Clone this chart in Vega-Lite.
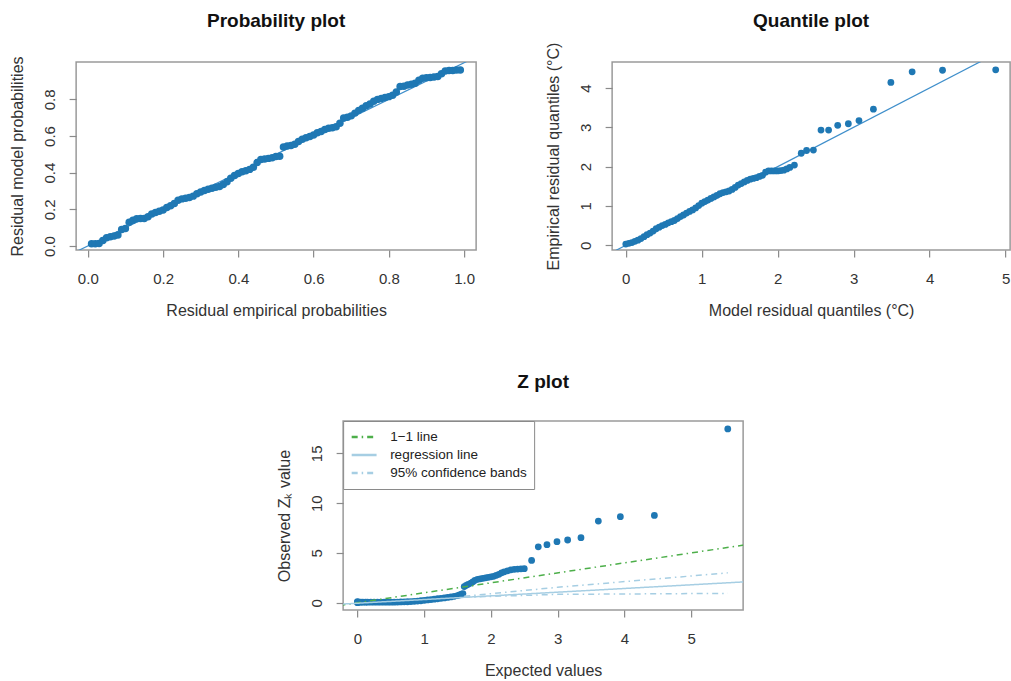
{
  "$schema": "https://vega.github.io/schema/vega-lite/v6.json",
  "autosize": {"type": "none"},
  "padding": {"left": 76, "top": 62, "right": 935, "bottom": 619},
  "background": "white",
  "config": {
    "font": "Liberation Sans",
    "view": {"stroke": "#9a9a9a", "strokeWidth": 1.5},
    "axis": {
      "domain": false, "grid": false, "tickColor": "#8a8a8a", "tickSize": 7, "tickWidth": 1.2,
      "labelFontSize": 15, "labelColor": "#333333", "titleFontSize": 16, "titleFontWeight": "normal", "titleColor": "#333333",
      "labelOverlap": false, "labelFlush": false
    },
    "axisX": {"labelPadding": 14, "titlePadding": 16},
    "axisY": {"labelAngle": 270, "labelPadding": 12, "titlePadding": 17},
    "title": {"fontSize": 19, "fontWeight": "bold", "color": "#111111", "anchor": "middle"}
  },
  "datasets": {
    "pp": [
      {"e":0.01,"m":0.012},{"e":0.02,"m":0.012},{"e":0.03,"m":0.013},{"e":0.04,"m":0.03},{"e":0.05,"m":0.045},
      {"e":0.06,"m":0.05},{"e":0.07,"m":0.055},{"e":0.08,"m":0.06},{"e":0.09,"m":0.09},{"e":0.10,"m":0.095},
      {"e":0.11,"m":0.13},{"e":0.12,"m":0.14},{"e":0.13,"m":0.148},{"e":0.14,"m":0.15},{"e":0.15,"m":0.15},
      {"e":0.16,"m":0.16},{"e":0.17,"m":0.175},{"e":0.18,"m":0.183},{"e":0.19,"m":0.19},{"e":0.20,"m":0.196},
      {"e":0.21,"m":0.21},{"e":0.22,"m":0.22},{"e":0.23,"m":0.232},{"e":0.24,"m":0.25},{"e":0.25,"m":0.257},
      {"e":0.26,"m":0.26},{"e":0.27,"m":0.265},{"e":0.28,"m":0.272},{"e":0.29,"m":0.285},{"e":0.30,"m":0.295},
      {"e":0.31,"m":0.303},{"e":0.32,"m":0.31},{"e":0.33,"m":0.315},{"e":0.34,"m":0.32},{"e":0.35,"m":0.325},
      {"e":0.36,"m":0.335},{"e":0.37,"m":0.35},{"e":0.38,"m":0.37},{"e":0.39,"m":0.385},{"e":0.40,"m":0.395},
      {"e":0.41,"m":0.405},{"e":0.42,"m":0.41},{"e":0.43,"m":0.418},{"e":0.44,"m":0.43},{"e":0.45,"m":0.455},
      {"e":0.46,"m":0.472},{"e":0.47,"m":0.475},{"e":0.48,"m":0.478},{"e":0.49,"m":0.482},{"e":0.50,"m":0.488},
      {"e":0.51,"m":0.49},{"e":0.52,"m":0.54},{"e":0.53,"m":0.545},{"e":0.54,"m":0.548},{"e":0.55,"m":0.555},
      {"e":0.56,"m":0.57},{"e":0.57,"m":0.582},{"e":0.58,"m":0.59},{"e":0.59,"m":0.598},{"e":0.60,"m":0.605},
      {"e":0.61,"m":0.618},{"e":0.62,"m":0.625},{"e":0.63,"m":0.635},{"e":0.64,"m":0.642},{"e":0.65,"m":0.645},
      {"e":0.66,"m":0.65},{"e":0.67,"m":0.67},{"e":0.68,"m":0.698},{"e":0.69,"m":0.702},{"e":0.70,"m":0.71},
      {"e":0.71,"m":0.725},{"e":0.72,"m":0.74},{"e":0.73,"m":0.752},{"e":0.74,"m":0.765},{"e":0.75,"m":0.775},
      {"e":0.76,"m":0.79},{"e":0.77,"m":0.80},{"e":0.78,"m":0.805},{"e":0.79,"m":0.81},{"e":0.80,"m":0.815},
      {"e":0.81,"m":0.822},{"e":0.82,"m":0.84},{"e":0.83,"m":0.87},{"e":0.84,"m":0.872},{"e":0.85,"m":0.878},
      {"e":0.86,"m":0.882},{"e":0.87,"m":0.888},{"e":0.88,"m":0.905},{"e":0.89,"m":0.915},{"e":0.90,"m":0.918},
      {"e":0.91,"m":0.92},{"e":0.92,"m":0.922},{"e":0.93,"m":0.925},{"e":0.94,"m":0.94},{"e":0.95,"m":0.955},
      {"e":0.96,"m":0.957},{"e":0.97,"m":0.958},{"e":0.98,"m":0.96},{"e":0.99,"m":0.96}
    ],
    "qq": [
      {"mq":0.00,"eq":0.03},{"mq":0.04,"eq":0.05},{"mq":0.08,"eq":0.07},{"mq":0.12,"eq":0.10},{"mq":0.16,"eq":0.13},
      {"mq":0.20,"eq":0.17},{"mq":0.24,"eq":0.22},{"mq":0.28,"eq":0.27},{"mq":0.32,"eq":0.31},{"mq":0.36,"eq":0.36},
      {"mq":0.40,"eq":0.42},{"mq":0.44,"eq":0.46},{"mq":0.48,"eq":0.50},{"mq":0.52,"eq":0.53},{"mq":0.56,"eq":0.57},
      {"mq":0.60,"eq":0.60},{"mq":0.64,"eq":0.63},{"mq":0.68,"eq":0.68},{"mq":0.72,"eq":0.73},{"mq":0.76,"eq":0.77},
      {"mq":0.80,"eq":0.82},{"mq":0.84,"eq":0.86},{"mq":0.88,"eq":0.90},{"mq":0.92,"eq":0.95},{"mq":0.96,"eq":1.01},
      {"mq":1.00,"eq":1.07},{"mq":1.04,"eq":1.11},{"mq":1.08,"eq":1.15},{"mq":1.12,"eq":1.19},{"mq":1.16,"eq":1.23},
      {"mq":1.20,"eq":1.27},{"mq":1.24,"eq":1.31},{"mq":1.28,"eq":1.34},{"mq":1.32,"eq":1.36},{"mq":1.36,"eq":1.38},
      {"mq":1.40,"eq":1.42},{"mq":1.44,"eq":1.47},{"mq":1.48,"eq":1.53},{"mq":1.52,"eq":1.57},{"mq":1.56,"eq":1.61},
      {"mq":1.60,"eq":1.65},{"mq":1.64,"eq":1.68},{"mq":1.68,"eq":1.70},{"mq":1.72,"eq":1.72},{"mq":1.76,"eq":1.75},
      {"mq":1.80,"eq":1.78},{"mq":1.84,"eq":1.86},{"mq":1.88,"eq":1.89},{"mq":1.92,"eq":1.89},{"mq":1.96,"eq":1.89},
      {"mq":2.00,"eq":1.89},{"mq":2.04,"eq":1.90},{"mq":2.08,"eq":1.91},{"mq":2.12,"eq":1.94},{"mq":2.16,"eq":1.98},
      {"mq":2.22,"eq":2.04},
      {"mq":2.31,"eq":2.34},{"mq":2.38,"eq":2.41},{"mq":2.47,"eq":2.42},{"mq":2.57,"eq":2.93},{"mq":2.67,"eq":2.93},
      {"mq":2.79,"eq":3.05},{"mq":2.93,"eq":3.09},{"mq":3.07,"eq":3.17},{"mq":3.26,"eq":3.46},{"mq":3.49,"eq":4.14},
      {"mq":3.77,"eq":4.41},{"mq":4.17,"eq":4.45},{"mq":4.87,"eq":4.46}
    ],
    "zp": [
      {"ev":0.00,"oz":0.05},{"ev":0.00,"oz":0.10},{"ev":0.00,"oz":0.00},{"ev":0.02,"oz":0.05},{"ev":0.05,"oz":0.05},
      {"ev":0.08,"oz":0.06},{"ev":0.12,"oz":0.06},{"ev":0.15,"oz":0.05},{"ev":0.20,"oz":0.05},{"ev":0.25,"oz":0.05},
      {"ev":0.30,"oz":0.06},{"ev":0.35,"oz":0.06},{"ev":0.40,"oz":0.05},{"ev":0.45,"oz":0.05},{"ev":0.50,"oz":0.05},
      {"ev":0.55,"oz":0.06},{"ev":0.60,"oz":0.07},{"ev":0.65,"oz":0.08},{"ev":0.70,"oz":0.09},{"ev":0.75,"oz":0.10},
      {"ev":0.80,"oz":0.12},{"ev":0.85,"oz":0.14},{"ev":0.90,"oz":0.17},{"ev":0.95,"oz":0.20},{"ev":1.00,"oz":0.24},
      {"ev":1.05,"oz":0.28},{"ev":1.10,"oz":0.32},{"ev":1.15,"oz":0.36},{"ev":1.20,"oz":0.40},{"ev":1.25,"oz":0.44},
      {"ev":1.30,"oz":0.48},{"ev":1.35,"oz":0.53},{"ev":1.40,"oz":0.58},{"ev":1.45,"oz":0.64},{"ev":1.50,"oz":0.72},
      {"ev":1.53,"oz":0.78},{"ev":1.56,"oz":0.86},{"ev":1.58,"oz":0.92},
      {"ev":1.60,"oz":1.62},{"ev":1.63,"oz":1.75},{"ev":1.66,"oz":1.85},{"ev":1.70,"oz":1.97},{"ev":1.73,"oz":2.10},
      {"ev":1.76,"oz":2.25},{"ev":1.80,"oz":2.35},{"ev":1.84,"oz":2.40},{"ev":1.88,"oz":2.45},{"ev":1.92,"oz":2.50},
      {"ev":1.96,"oz":2.55},{"ev":2.00,"oz":2.60},{"ev":2.04,"oz":2.65},{"ev":2.08,"oz":2.75},{"ev":2.12,"oz":2.85},
      {"ev":2.16,"oz":3.00},{"ev":2.20,"oz":3.10},{"ev":2.25,"oz":3.20},{"ev":2.30,"oz":3.30},{"ev":2.35,"oz":3.35},
      {"ev":2.40,"oz":3.38},{"ev":2.45,"oz":3.40},{"ev":2.50,"oz":3.42},
      {"ev":2.61,"oz":4.25},{"ev":2.71,"oz":5.62},{"ev":2.84,"oz":5.83},{"ev":2.99,"oz":6.13},{"ev":3.15,"oz":6.30},
      {"ev":3.35,"oz":6.53},{"ev":3.61,"oz":8.20},{"ev":3.94,"oz":8.64},{"ev":4.45,"oz":8.77},{"ev":5.55,"oz":17.45}
    ],
    "zlines": [
      {"series":"1−1 line","band":"a","ev":-0.5,"oz":-0.5},
      {"series":"1−1 line","band":"a","ev":6.0,"oz":6.0},
      {"series":"regression line","band":"b","ev":-0.5,"oz":-0.235},
      {"series":"regression line","band":"b","ev":6.0,"oz":2.17},
      {"series":"95% confidence bands","band":"upper","ev":1.6,"oz":0.65},
      {"series":"95% confidence bands","band":"upper","ev":3.0,"oz":1.55},
      {"series":"95% confidence bands","band":"upper","ev":5.55,"oz":3.0},
      {"series":"95% confidence bands","band":"lower","ev":1.6,"oz":0.55},
      {"series":"95% confidence bands","band":"lower","ev":3.0,"oz":0.84},
      {"series":"95% confidence bands","band":"lower","ev":5.55,"oz":0.94}
    ],
    "diag": [{"d":-0.5},{"d":6.0}]
  },
  "vconcat": [
    {
      "hconcat": [
        {
          "title": {"text": "Probability plot", "offset": 25},
          "width": 400, "height": 188,
          "layer": [
            {
              "data": {"name": "diag"},
              "mark": {"type": "line", "color": "#3f8fcb", "strokeWidth": 1.2, "clip": true},
              "encoding": {
                "x": {"field": "d", "type": "quantitative"},
                "y": {"field": "d", "type": "quantitative"}
              }
            },
            {
              "data": {"name": "pp"},
              "mark": {"type": "circle", "color": "#1f78b4", "opacity": 1, "size": 56},
              "encoding": {
                "x": {"field": "e", "type": "quantitative", "title": "Residual empirical probabilities",
                      "scale": {"domain": [-0.031, 1.032], "nice": false, "zero": false},
                      "axis": {"values": [0, 0.2, 0.4, 0.6, 0.8, 1.0], "format": ".1f"}},
                "y": {"field": "m", "type": "quantitative", "title": "Residual model probabilities",
                      "scale": {"domain": [-0.022, 1.004], "nice": false, "zero": false},
                      "axis": {"values": [0, 0.2, 0.4, 0.6, 0.8], "format": ".1f"}}
              }
            }
          ]
        },
        {
          "title": {"text": "Quantile plot", "offset": 11},
          "width": 398, "height": 188,
          "layer": [
            {
              "data": {"name": "diag"},
              "mark": {"type": "line", "color": "#3f8fcb", "strokeWidth": 1.2, "clip": true},
              "encoding": {
                "x": {"field": "d", "type": "quantitative"},
                "y": {"field": "d", "type": "quantitative"}
              }
            },
            {
              "data": {"name": "qq"},
              "mark": {"type": "circle", "color": "#1f78b4", "opacity": 1, "size": 46},
              "encoding": {
                "x": {"field": "mq", "type": "quantitative", "title": "Model residual quantiles (°C)",
                      "scale": {"domain": [-0.18, 5.06], "nice": false, "zero": false},
                      "axis": {"values": [0, 1, 2, 3, 4, 5], "format": "d"}},
                "y": {"field": "eq", "type": "quantitative", "title": "Empirical residual quantiles (°C)",
                      "scale": {"domain": [-0.12, 4.66], "nice": false, "zero": false},
                      "axis": {"values": [0, 1, 2, 3, 4], "format": "d"}}
              }
            }
          ]
        }
      ],
      "spacing": 136,
      "bounds": "flush"
    },
    {
      "title": {"text": "Z plot", "offset": 29},
      "width": 400, "height": 189,
      "layer": [
        {
          "data": {"name": "zp"},
          "mark": {"type": "circle", "color": "#1f78b4", "opacity": 1, "size": 46},
          "encoding": {
            "x": {"field": "ev", "type": "quantitative", "title": "Expected values",
                  "scale": {"domain": [-0.215, 5.78], "nice": false, "zero": false},
                  "axis": {"values": [0, 1, 2, 3, 4, 5], "format": "d"}},
            "y": {"field": "oz", "type": "quantitative", "title": "Observed Zₖ value",
                  "scale": {"domain": [-0.73, 18.25], "nice": false, "zero": false},
                  "axis": {"values": [0, 5, 10, 15], "format": "d"}}
          }
        },
        {
          "data": {"name": "zlines"},
          "mark": {"type": "line", "strokeWidth": 1.5, "clip": true},
          "encoding": {
            "x": {"field": "ev", "type": "quantitative"},
            "y": {"field": "oz", "type": "quantitative"},
            "detail": {"field": "band"},
            "color": {"field": "series", "type": "nominal",
                      "scale": {"domain": ["1−1 line", "regression line", "95% confidence bands"],
                                "range": ["#4daf4a", "#a6cee3", "#a6cee3"]},
                      "legend": {"title": null, "orient": "top-left", "offset": 0, "padding": 7,
                                 "strokeColor": "#8a8a8a", "fillColor": "white", "symbolType": "stroke",
                                 "symbolSize": 620, "symbolStrokeWidth": 2.5, "labelFontSize": 13.5,
                                 "labelColor": "#222222", "rowPadding": -1.5, "clipHeight": 18, "labelOffset": 12}},
            "strokeDash": {"field": "series", "type": "nominal",
                           "scale": {"domain": ["1−1 line", "regression line", "95% confidence bands"],
                                     "range": [[6, 4, 1.5, 4], [1, 0], [6, 4, 1.5, 4]]},
                           "legend": {"title": null, "orient": "top-left", "offset": 0, "padding": 7,
                                      "strokeColor": "#8a8a8a", "fillColor": "white", "symbolType": "stroke",
                                      "symbolSize": 620, "symbolStrokeWidth": 2.5, "labelFontSize": 13.5,
                                      "labelColor": "#222222", "rowPadding": -1.5, "clipHeight": 18, "labelOffset": 12}}
          }
        }
      ]
    }
  ],
  "spacing": 52,
  "center": true,
  "resolve": {"legend": {"color": "independent", "strokeDash": "independent"}}
}
